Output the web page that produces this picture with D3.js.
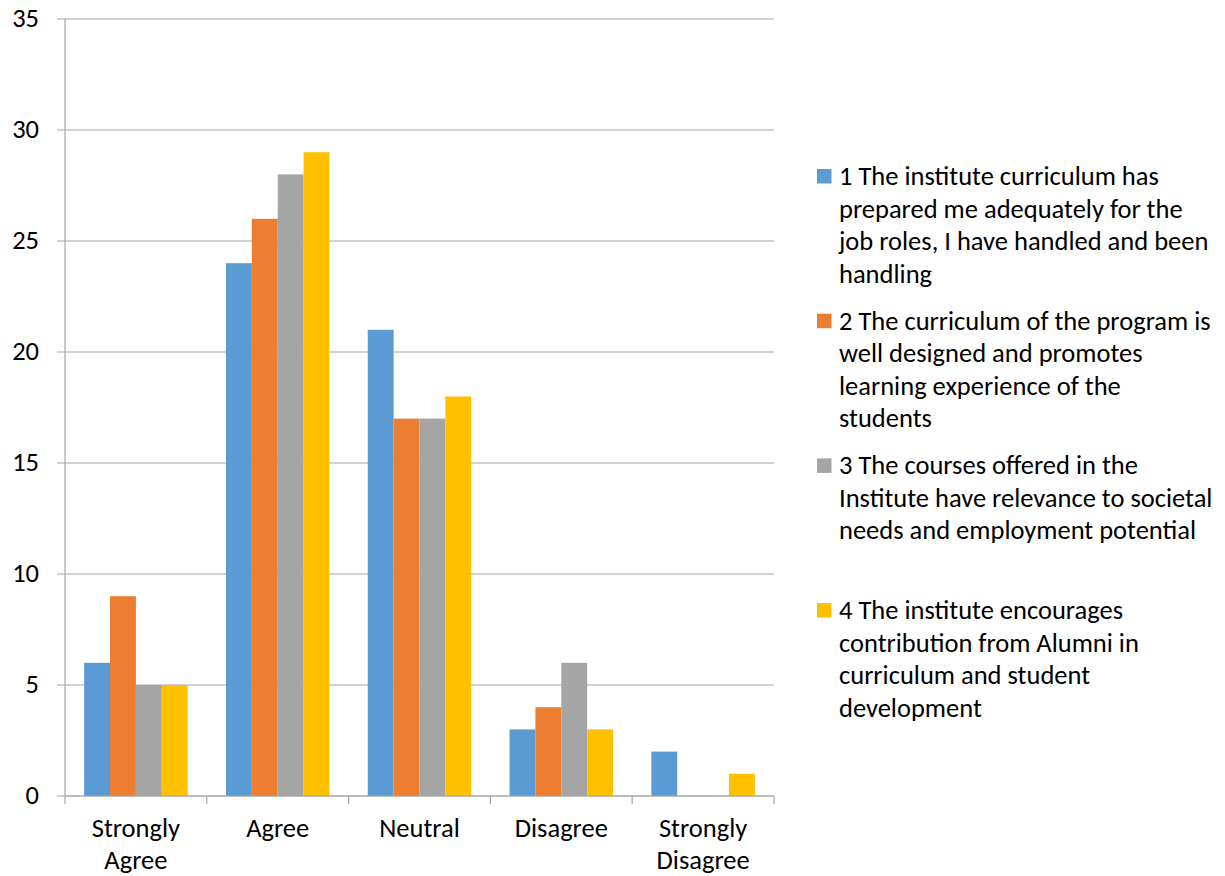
<!DOCTYPE html>
<html>
<head>
<meta charset="utf-8">
<script src="https://cdn.jsdelivr.net/npm/d3@7"></script>
<style>
  html, body { margin: 0; padding: 0; background: #fff; }
  svg { display: block; }
  text { font-family: Carlito, Calibri, "Open Sans", sans-serif; fill: #000; }
</style>
</head>
<body>
<svg id="chart" width="1225" height="876"></svg>
<script>
// Response categories (x axis)
const categories = ["Strongly Agree", "Agree", "Neutral", "Disagree", "Strongly Disagree"];
// Category labels as drawn, wrapped onto lines
const categoryLines = [["Strongly", "Agree"], ["Agree"], ["Neutral"], ["Disagree"], ["Strongly", "Disagree"]];

// One series per survey statement
const seriesNames = ["s1", "s2", "s3", "s4"];
const s1 = [6, 24, 21, 3, 2];
const s2 = [9, 26, 17, 4, 0];
const s3 = [5, 28, 17, 6, 0];
const s4 = [5, 29, 18, 3, 1];
const seriesValues = [s1, s2, s3, s4];

// Legend text, wrapped onto lines
const legendLines = [
  ["1 The institute curriculum has", "prepared me adequately for the", "job roles, I have handled and been", "handling"],
  ["2 The curriculum of the program is", "well designed and promotes", "learning experience of the", "students"],
  ["3 The courses offered in the", "Institute have relevance to societal", "needs and employment potential"],
  ["4 The institute encourages", "contribution from Alumni in", "curriculum and student", "development"]
];

const yTicks = [0, 5, 10, 15, 20, 25, 30, 35];
const colors = ["#5B9BD5", "#ED7D31", "#A5A5A5", "#FFC000"];

const svg = d3.select("#chart");
const plot = { left: 65, right: 774, top: 19, bottom: 796 };
const fontSize = 26.5;

const y = d3.scaleLinear().domain([0, 35]).range([plot.bottom, plot.top]);
const x0 = d3.scaleBand().domain(categories).range([plot.left, plot.right]).padding(0);
const groupPad = x0.bandwidth() * 0.135;
const x1 = d3.scaleBand().domain(seriesNames)
  .range([groupPad, x0.bandwidth() - groupPad]).padding(0);

// Horizontal gridlines, extended a little left of the axis as tick marks
svg.append("g").selectAll("line").data(yTicks).join("line")
  .attr("x1", plot.left - 8).attr("x2", plot.right)
  .attr("y1", d => y(d)).attr("y2", d => y(d))
  .attr("stroke", "#A6A6A6").attr("stroke-width", 1.2);

// Y tick labels
svg.append("g").selectAll("text").data(yTicks).join("text")
  .attr("x", 39).attr("y", d => y(d))
  .attr("dy", "0.32em")
  .attr("text-anchor", "end")
  .attr("font-size", fontSize)
  .text(d => d);

// Bars
const rows = categories.map((c, i) => ({ c, vals: seriesValues.map((s, k) => ({ k, v: s[i] })) }));
svg.append("g").selectAll("g").data(rows).join("g")
  .attr("transform", d => `translate(${x0(d.c)},0)`)
  .selectAll("rect").data(d => d.vals.filter(e => e.v > 0)).join("rect")
  .attr("x", d => x1(seriesNames[d.k]))
  .attr("width", x1.bandwidth())
  .attr("y", d => y(d.v))
  .attr("height", d => y(0) - y(d.v))
  .attr("fill", d => colors[d.k]);

// Y axis line
svg.append("line")
  .attr("x1", plot.left).attr("x2", plot.left)
  .attr("y1", plot.top).attr("y2", plot.bottom)
  .attr("stroke", "#A6A6A6").attr("stroke-width", 1.2);

// X axis line and category boundary ticks
svg.append("line")
  .attr("x1", plot.left).attr("x2", plot.right)
  .attr("y1", plot.bottom).attr("y2", plot.bottom)
  .attr("stroke", "#A6A6A6").attr("stroke-width", 1.2);
const bounds = categories.map(c => x0(c)).concat([plot.right]);
svg.append("g").selectAll("line").data(bounds).join("line")
  .attr("x1", d => d).attr("x2", d => d)
  .attr("y1", plot.bottom).attr("y2", plot.bottom + 8)
  .attr("stroke", "#A6A6A6").attr("stroke-width", 1.2);

// Category labels
const labelBase = 837, labelStep = 31.5;
svg.append("g").selectAll("text").data(categories).join("text")
  .attr("text-anchor", "middle")
  .attr("font-size", fontSize)
  .attr("x", c => x0(c) + x0.bandwidth() / 2)
  .attr("y", labelBase)
  .each(function (c, i) {
    d3.select(this).selectAll("tspan").data(categoryLines[i]).join("tspan")
      .attr("x", x0(c) + x0.bandwidth() / 2)
      .attr("y", (d, j) => labelBase + j * labelStep)
      .text(d => d);
  });

// Legend
const legend = svg.append("g");
const itemStep = 144.7, lineStep = 32.5, firstBase = 185;
legendLines.forEach((lines, k) => {
  const base = firstBase + k * itemStep;
  legend.append("rect")
    .attr("x", 817).attr("y", base - 16)
    .attr("width", 14.5).attr("height", 14.5)
    .attr("fill", colors[k]);
  const t = legend.append("text").attr("font-size", fontSize);
  lines.forEach((ln, j) => {
    t.append("tspan").attr("x", 839).attr("y", base + j * lineStep).text(ln);
  });
});
</script>
</body>
</html>
